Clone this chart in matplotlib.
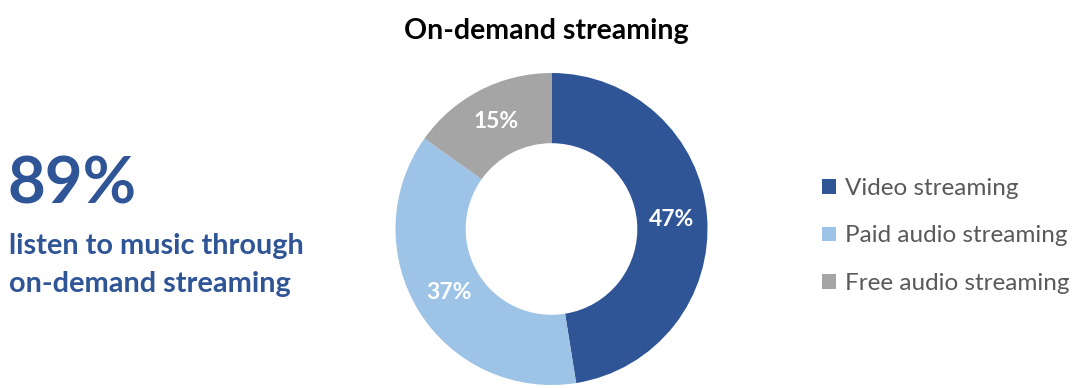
import matplotlib
matplotlib.use('Agg')
import matplotlib.pyplot as plt

plt.rcParams['font.family'] = ['Lato', 'DejaVu Sans']

# share of listeners by streaming type
categories = ['Video streaming', 'Paid audio streaming', 'Free audio streaming']
shares = [47, 37, 15]
colors = ['#2F5597', '#9DC3E6', '#A5A5A5']

headline = '89%'
caption_lines = ['listen to music through', 'on-demand streaming']
title = 'On-demand streaming'

W, H = 1081, 388
fig = plt.figure(figsize=(W / 100, H / 100), dpi=100)

# donut axes placed in pixel terms: centre (551.5, 229), radius 156
cx, cy, r = 551.5, 229, 156
ax = fig.add_axes([(cx - r) / W, (H - cy - r) / H, 2 * r / W, 2 * r / H])

wedges, texts, autotexts = ax.pie(
    shares, colors=colors, startangle=90, counterclock=False,
    wedgeprops=dict(width=0.45, edgecolor='none'),
    autopct=lambda p: '', pctdistance=0.775)

for a, v in zip(autotexts, shares):
    a.set_text(f'{v}%')
    a.set_color('white')
    a.set_fontsize(16.5)
    a.set_fontweight('bold')

ax.set_xlim(-1, 1)
ax.set_ylim(-1, 1)
ax.set_aspect('equal')
ax.axis('off')

fig.text(546.5 / W, 1 - 38.5 / H, title, ha='center', va='baseline',
         fontsize=20.5, fontweight='bold', color='black')

fig.text(8 / W, 1 - 204 / H, headline, ha='left', va='baseline',
         fontsize=47, fontweight='bold', color='#2F5597')
for i, line in enumerate(caption_lines):
    fig.text(9 / W, 1 - (254 + 38 * i) / H, line, ha='left', va='baseline',
             fontsize=20.8, fontweight='bold', color='#2F5597')

leg = fig.legend(wedges, categories, loc='center left',
                 bbox_to_anchor=(822 / W, 1 - 236 / H), frameon=False,
                 fontsize=17.5, handlelength=0.56, handleheight=0.56,
                 handletextpad=0.37, labelspacing=1.1,
                 borderpad=0, borderaxespad=0)
for t in leg.get_texts():
    t.set_color('#595959')

fig.savefig('out.png', dpi=100, facecolor='white')
